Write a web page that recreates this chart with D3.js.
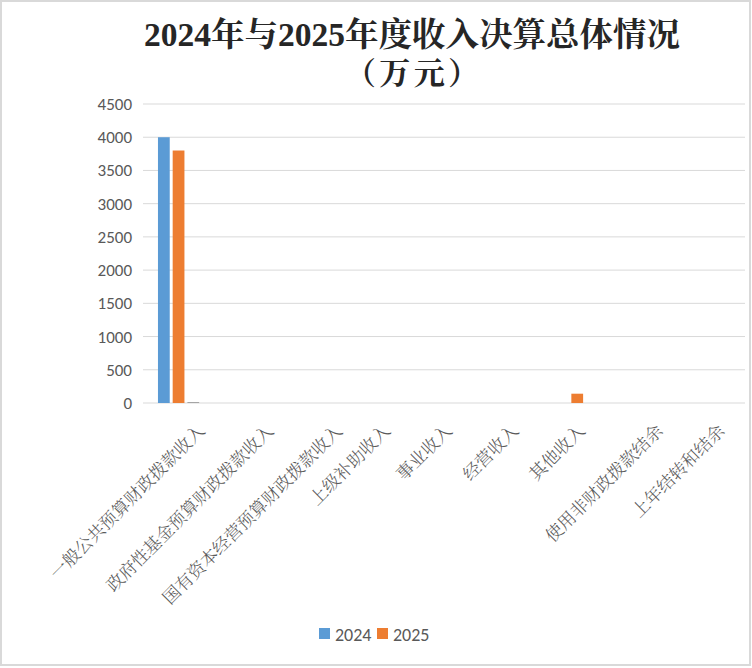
<!DOCTYPE html>
<html><head><meta charset="utf-8">
<script src="https://cdn.jsdelivr.net/npm/d3@7"></script>
<style>
html,body{margin:0;padding:0;background:#fff;}
svg{display:block;}
</style></head>
<body>
<script>
const categories = ["一般公共预算财政拨款收入","政府性基金预算财政拨款收入","国有资本经营预算财政拨款收入","上级补助收入","事业收入","经营收入","其他收入","使用非财政拨款结余","上年结转和结余"];
const values2024 = [4000,0,0,0,0,0,0,0,0];
const values2025 = [3800,0,0,0,0,0,140,0,0];
const values3 = [15,0,0,0,0,0,0,0,0];
const seriesNames = ["2024","2025",""];
const colors = ["#5B9BD5","#ED7D31","#A5A5A5"];
const yTicks = [0,500,1000,1500,2000,2500,3000,3500,4000,4500];

const W=752,H=668;
const svg=d3.select("body").append("svg").attr("width",W).attr("height",H);
svg.append("rect").attr("x",1).attr("y",1).attr("width",W-3).attr("height",H-4)
  .attr("fill","#fff").attr("stroke","#d9d9d9").attr("stroke-width",2);

const m={left:147,right:745,top:104,bottom:403};
const x=d3.scaleBand().domain(categories).range([m.left,m.right]).paddingInner(0).paddingOuter(0);
const y=d3.scaleLinear().domain([0,4500]).range([m.bottom,m.top]);

// gridlines
svg.append("g").selectAll("line").data(yTicks).join("line")
  .attr("x1",m.left-4).attr("x2",m.right).attr("y1",d=>y(d)).attr("y2",d=>y(d))
  .attr("stroke","#d9d9d9").attr("stroke-width",1);

// y labels
svg.append("g").selectAll("text").data(yTicks).join("text")
  .attr("x",132).attr("y",d=>y(d)).attr("dy","0.35em").attr("text-anchor","end")
  .attr("font-family","Carlito, 'Open Sans', 'DejaVu Sans', sans-serif").attr("font-size",17)
  .attr("fill","#595959").text(d=>d);

// bars
const series=[values2024,values2025,values3];
const bw=x.bandwidth();
const inner=d3.scaleBand().domain([0,1,2]).range([bw*0.165,bw*0.785]).paddingInner(0.2).paddingOuter(0);
series.forEach((vals,si)=>{
  svg.append("g").selectAll("rect").data(vals.map((v,i)=>({c:categories[i],v}))).join("rect")
    .attr("x",d=>x(d.c)+inner(si)).attr("width",inner.bandwidth())
    .attr("y",d=>y(d.v)).attr("height",d=>y(0)-y(d.v))
    .attr("fill",colors[si]);
});

// category labels
svg.append("g").selectAll("text").data(categories).join("text")
  .attr("transform",d=>`translate(${x(d)+bw/2+2.3*d.length-2},${m.bottom+29}) rotate(-45)`)
  .attr("text-anchor","end")
  .attr("font-family","'Noto Serif CJK SC','Noto Sans CJK SC',serif").attr("font-size",17.5)
  .attr("font-weight",300)
  .attr("fill","#595959").text(d=>d);

// title
const tf="'Liberation Serif','Noto Serif CJK SC','Noto Sans CJK SC',serif";
svg.append("text").attr("x",412).attr("y",46).attr("text-anchor","middle")
  .attr("font-family",tf).attr("font-weight","bold").attr("font-size",33.5).attr("fill","#262626")
  .text("2024年与2025年度收入决算总体情况");
svg.append("text").attr("x",412).attr("y",84).attr("text-anchor","middle")
  .attr("font-family",tf).attr("font-weight","bold").attr("font-size",31).attr("fill","#262626")
  .attr("textLength",134).attr("lengthAdjust","spacing")
  .text("（万元）");

// legend
const lg=svg.append("g");
const legItems=[{n:seriesNames[0],c:colors[0],x:319},{n:seriesNames[1],c:colors[1],x:377}];
legItems.forEach(it=>{
  lg.append("rect").attr("x",it.x).attr("y",628).attr("width",11).attr("height",11).attr("fill",it.c);
  lg.append("text").attr("x",it.x+16).attr("y",635).attr("dy","0.35em")
    .attr("font-family","Carlito, 'Open Sans', 'DejaVu Sans', sans-serif").attr("font-size",18)
    .attr("fill","#595959").text(it.n);
});
</script>
</body></html>
